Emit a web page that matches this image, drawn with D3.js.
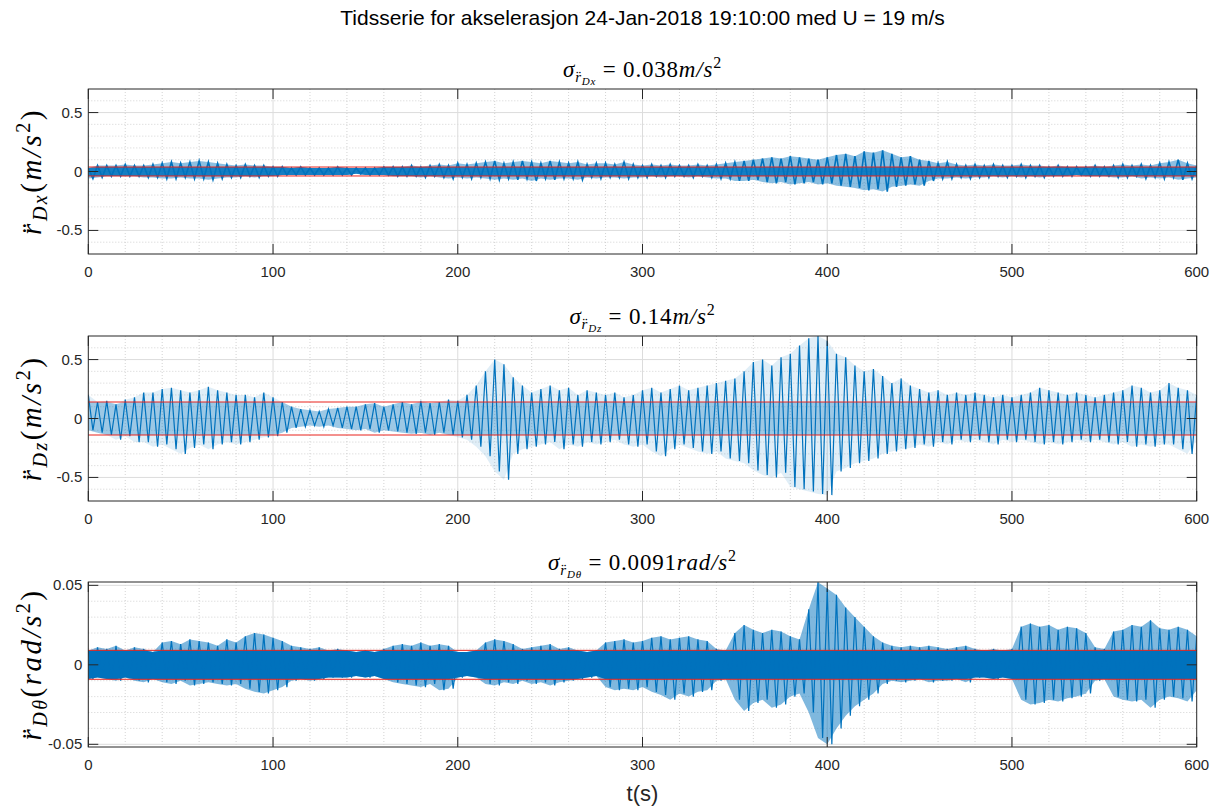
<!DOCTYPE html>
<html>
<head>
<meta charset="utf-8">
<script src="https://cdn.jsdelivr.net/npm/d3@7"></script>
<style>
  body { margin: 0; background: #fff; }
  text { font-family: "Liberation Sans", Arial, sans-serif; fill: #262626; }
  .tex { font-family: "Liberation Serif", "Times New Roman", serif; fill: #000; }
</style>
</head>
<body>
<svg id="fig" width="1218" height="809"></svg>
<script>
// ------------------ 1. Data ------------------
// every value is the max (Hi) or min (Lo) of the signal inside a 5 s window starting at t
const binSeconds = 5;
const binStarts = d3.range(0, 601, binSeconds);

// r_Dx (m/s^2)
const dxHi = [.03,.05,.05,.05,.06,.05,.05,.06,.07,.08, .07,.08,.09,.08,.07,.06,.05,.06,.05,.05,
  .04,.04,.03,.04,.03,.03,.03,.04,.03,.03, .03,.03,.04,.04,.04,.05,.04,.05,.06,.05,
  .07,.06,.07,.08,.09,.07,.08,.09,.08,.07, .09,.08,.07,.08,.06,.07,.07,.06,.08,.06,
  .05,.06,.05,.06,.05,.05,.06,.05,.06,.07, .08,.09,.10,.11,.12,.11,.13,.12,.11,.10,
  .12,.14,.15,.13,.17,.16,.18,.15,.12,.13, .10,.09,.07,.08,.06,.05,.06,.05,.06,.05,
  .05,.06,.05,.05,.04,.05,.04,.04,.04,.05, .04,.05,.06,.05,.06,.05,.07,.08,.10,.07, .05];
const dxLo = [-.06,-.05,-.04,-.04,-.04,-.04,-.05,-.05,-.06,-.06, -.05,-.06,-.06,-.07,-.06,-.05,-.05,-.04,-.05,-.04,
  -.04,-.03,-.03,-.03,-.03,-.03,-.03,-.03,-.03,-.02, -.03,-.03,-.03,-.04,-.04,-.04,-.05,-.04,-.05,-.06,
  -.05,-.06,-.05,-.06,-.07,-.06,-.07,-.06,-.08,-.06, -.07,-.06,-.06,-.07,-.05,-.06,-.05,-.05,-.06,-.05,
  -.05,-.04,-.05,-.04,-.04,-.05,-.04,-.05,-.06,-.06, -.08,-.08,-.07,-.09,-.10,-.09,-.11,-.10,-.09,-.11,
  -.10,-.12,-.13,-.14,-.16,-.15,-.17,-.13,-.12,-.11, -.12,-.08,-.06,-.06,-.05,-.06,-.05,-.05,-.04,-.05,
  -.04,-.05,-.04,-.05,-.04,-.04,-.04,-.03,-.04,-.04, -.04,-.05,-.05,-.04,-.06,-.05,-.06,-.05,-.07,-.06, -.05];

// r_Dz (m/s^2)
const dzHi = [.20,.14,.15,.12,.16,.18,.22,.22,.25,.26, .24,.22,.24,.27,.24,.22,.20,.20,.18,.22,
  .18,.14,.10,.08,.07,.06,.08,.09,.10,.10, .12,.13,.10,.12,.14,.12,.15,.13,.14,.16,
  .15,.20,.28,.40,.50,.46,.35,.28,.22,.25, .28,.24,.26,.20,.24,.22,.20,.22,.18,.20,
  .24,.26,.22,.25,.28,.24,.26,.28,.30,.32, .34,.40,.48,.50,.45,.52,.55,.62,.68,.70,
  .66,.55,.52,.45,.40,.42,.36,.30,.34,.28, .25,.22,.24,.20,.22,.20,.22,.20,.18,.20,
  .18,.20,.22,.26,.24,.22,.20,.22,.20,.18, .20,.22,.24,.28,.26,.22,.24,.30,.26,.24, .20];
const dzLo = [-.10,-.12,-.14,-.18,-.15,-.20,-.20,-.24,-.22,-.26, -.30,-.25,-.22,-.26,-.22,-.20,-.22,-.20,-.18,-.16,
  -.15,-.12,-.08,-.07,-.06,-.07,-.06,-.08,-.09,-.10, -.09,-.12,-.10,-.11,-.12,-.13,-.12,-.14,-.12,-.14,
  -.16,-.18,-.24,-.32,-.45,-.52,-.30,-.26,-.24,-.22, -.20,-.26,-.22,-.24,-.20,-.22,-.20,-.18,-.22,-.24,
  -.22,-.28,-.32,-.26,-.22,-.25,-.28,-.30,-.28,-.34, -.36,-.38,-.44,-.48,-.50,-.46,-.58,-.60,-.62,-.64,
  -.65,-.45,-.42,-.38,-.36,-.34,-.30,-.28,-.26,-.25, -.22,-.24,-.20,-.22,-.18,-.20,-.18,-.20,-.22,-.18,
  -.20,-.18,-.20,-.22,-.20,-.22,-.20,-.18,-.20,-.18, -.20,-.22,-.20,-.24,-.22,-.24,-.22,-.22,-.26,-.30, -.18];

// r_Dtheta (rad/s^2)
const dthHi = [.009,.011,.010,.012,.009,.011,.010,.008,.014,.015, .013,.016,.015,.014,.012,.016,.014,.018,.020,.019,
  .017,.015,.012,.011,.010,.011,.009,.010,.009,.008, .009,.008,.010,.012,.013,.012,.014,.012,.013,.012,
  .008,.008,.009,.014,.016,.015,.013,.010,.011,.012, .013,.010,.011,.009,.008,.009,.014,.015,.016,.014,
  .015,.017,.018,.016,.017,.018,.016,.015,.010,.009, .020,.025,.022,.020,.022,.021,.018,.016,.035,.052,
  .048,.044,.036,.030,.024,.018,.014,.012,.011,.012, .011,.012,.011,.010,.011,.012,.010,.009,.010,.009,
  .010,.024,.026,.024,.025,.022,.024,.023,.020,.011, .010,.021,.022,.025,.024,.028,.023,.022,.024,.022, .018];
const dthLo = [-.009,-.008,-.009,-.010,-.008,-.010,-.011,-.009,-.011,-.012, -.010,-.013,-.012,-.011,-.012,-.013,-.012,-.015,-.017,-.018,
  -.016,-.014,-.010,-.009,-.010,-.009,-.008,-.008,-.008,-.007, -.008,-.007,-.009,-.011,-.012,-.013,-.014,-.012,-.016,-.015,
  -.008,-.007,-.008,-.012,-.013,-.011,-.012,-.010,-.012,-.011, -.013,-.011,-.010,-.009,-.008,-.007,-.014,-.016,-.015,-.016,
  -.014,-.017,-.019,-.022,-.018,-.020,-.017,-.016,-.010,-.009, -.022,-.029,-.024,-.022,-.027,-.025,-.020,-.018,-.030,-.046,
  -.050,-.040,-.032,-.026,-.022,-.018,-.012,-.010,-.011,-.010, -.009,-.011,-.010,-.010,-.009,-.011,-.008,-.008,-.009,-.008,
  -.009,-.022,-.025,-.024,-.022,-.023,-.021,-.020,-.018,-.010, -.009,-.020,-.022,-.023,-.022,-.027,-.022,-.020,-.021,-.023, -.016];

const sigmas = [0.038, 0.14, 0.0091];          // red lines at +/- sigma
const sigmaLabels = ['0.038', '0.14', '0.0091'];
const xTicks = [0, 100, 200, 300, 400, 500, 600];
const yTicksMS = [-0.5, 0, 0.5];
const yTicksRad = [-0.05, 0, 0.05];
const mainTitle = 'Tidsserie for akselerasjon 24-Jan-2018 19:10:00 med U = 19 m/s';

// ------------------ 2. Layout ------------------
const svg = d3.select('#fig');
svg.append('rect').attr('width', 1218).attr('height', 809).attr('fill', '#fff');

const left = 88.3, right = 1196.7, plotH = 165;
const x = d3.scaleLinear().domain([0, 600]).range([left, right]);

// outerOp = light envelope, coreOp = dense part inside +/- sigma
const panels = [
  { top: 89,  hi: dxHi,  lo: dxLo,  dom: [-0.7, 0.7], ticks: yTicksMS, minor: 0.1,
    sub: 'Dx', unit: 'm/s', outerOp: 0.45, coreOp: 0.85, lw: 1.6 },
  { top: 336, hi: dzHi,  lo: dzLo,  dom: [-0.7, 0.7], ticks: yTicksMS, minor: 0.1,
    sub: 'Dz', unit: 'm/s', outerOp: 0.12, coreOp: 0.3, lw: 1.2 },
  { top: 582, hi: dthHi, lo: dthLo, dom: [-0.0517, 0.0521], ticks: yTicksRad, minor: 0.01,
    sub: 'D\u03B8', unit: 'rad/s', outerOp: 0.5, coreOp: 1, lw: 1.2 }
];

const blue = '#0072BD';
const red = '#e8231c';
const axisColor = '#262626';

// helper: write a run of tspans (for the latex-ish labels)
function richText(sel, parts) {
  parts.forEach(p => {
    const ts = sel.append('tspan').text(p.t).attr('font-size', p.size);
    if (p.it) ts.attr('font-style', 'italic');
    if (p.dy) ts.attr('dy', p.dy);
  });
}

svg.append('text')
  .attr('x', (left + right) / 2).attr('y', 25)
  .attr('text-anchor', 'middle').attr('font-size', 21)
  .style('fill', '#000')
  .text(mainTitle);

panels.forEach((p, k) => {
  const top = p.top, bottom = top + plotH;
  const y = d3.scaleLinear().domain(p.dom).range([bottom, top]);
  const g = svg.append('g');

  const clipId = 'clip' + k;
  svg.append('clipPath').attr('id', clipId)
    .append('rect').attr('x', left).attr('y', top).attr('width', right - left).attr('height', plotH);

  // minor grid (dotted)
  const xMinor = d3.range(0, 601, 20).filter(v => v % 100 !== 0);
  g.selectAll('.xmin').data(xMinor).join('line')
    .attr('x1', d => x(d)).attr('x2', d => x(d)).attr('y1', top).attr('y2', bottom)
    .attr('stroke', '#c8c8c8').attr('stroke-dasharray', '1,2').attr('stroke-width', 0.8);
  const nMin = Math.ceil(p.dom[1] / p.minor - 1e-9);
  const yMinor = d3.range(-nMin, nMin + 1).map(i => i * p.minor)
    .filter(v => v > p.dom[0] && v < p.dom[1])
    .filter(v => !p.ticks.some(t => Math.abs(t - v) < p.minor / 10));
  g.selectAll('.ymin').data(yMinor).join('line')
    .attr('x1', left).attr('x2', right).attr('y1', d => y(d)).attr('y2', d => y(d))
    .attr('stroke', '#c8c8c8').attr('stroke-dasharray', '1,2').attr('stroke-width', 0.8);

  // major grid
  g.selectAll('.xmaj').data(xTicks.slice(1, -1)).join('line')
    .attr('x1', d => x(d)).attr('x2', d => x(d)).attr('y1', top).attr('y2', bottom)
    .attr('stroke', '#dcdcdc').attr('stroke-width', 1);
  g.selectAll('.ymaj').data(p.ticks).join('line')
    .attr('x1', left).attr('x2', right).attr('y1', d => y(d)).attr('y2', d => y(d))
    .attr('stroke', '#dcdcdc').attr('stroke-width', 1);

  // signal: light envelope, dense core (clamped at +/- sigma), zigzag through the extremes
  const s = sigmas[k];
  const band = d3.area()
    .x((d, i) => x(binStarts[i]))
    .y0((d, i) => y(p.lo[i]))
    .y1((d, i) => y(p.hi[i]));
  g.append('path').datum(p.hi)
    .attr('clip-path', `url(#${clipId})`)
    .attr('d', band).attr('fill', blue).attr('fill-opacity', p.outerOp);

  const core = d3.area()
    .x((d, i) => x(binStarts[i]))
    .y0((d, i) => y(Math.max(p.lo[i], -s)))
    .y1((d, i) => y(Math.min(p.hi[i], s)));
  g.append('path').datum(p.hi)
    .attr('clip-path', `url(#${clipId})`)
    .attr('d', core).attr('fill', blue).attr('fill-opacity', p.coreOp);

  const pts = [];
  binStarts.forEach((t, i) => {
    pts.push([t, p.hi[i]]);
    if (i < binStarts.length - 1) pts.push([t + binSeconds / 2, p.lo[i]]);
  });
  g.append('path').datum(pts)
    .attr('clip-path', `url(#${clipId})`)
    .attr('d', d3.line().x(d => x(d[0])).y(d => y(d[1])))
    .attr('fill', 'none').attr('stroke', blue).attr('stroke-width', p.lw);

  // +/- sigma
  g.selectAll('.sig').data([s, -s]).join('line')
    .attr('x1', left).attr('x2', right).attr('y1', d => y(d)).attr('y2', d => y(d))
    .attr('stroke', red).attr('stroke-width', 1);

  // box + inward ticks
  g.append('rect').attr('x', left).attr('y', top).attr('width', right - left).attr('height', plotH)
    .attr('fill', 'none').attr('stroke', axisColor).attr('stroke-width', 1);
  const tl = 10;
  xTicks.forEach(v => {
    g.append('line').attr('x1', x(v)).attr('x2', x(v)).attr('y1', bottom).attr('y2', bottom - tl)
      .attr('stroke', axisColor);
    g.append('line').attr('x1', x(v)).attr('x2', x(v)).attr('y1', top).attr('y2', top + tl)
      .attr('stroke', axisColor);
    g.append('text').attr('x', x(v)).attr('y', bottom + 23)
      .attr('text-anchor', 'middle').attr('font-size', 15).text(v);
  });
  p.ticks.forEach(v => {
    g.append('line').attr('x1', left).attr('x2', left + tl).attr('y1', y(v)).attr('y2', y(v))
      .attr('stroke', axisColor);
    g.append('line').attr('x1', right).attr('x2', right - tl).attr('y1', y(v)).attr('y2', y(v))
      .attr('stroke', axisColor);
    g.append('text').attr('x', left - 6).attr('y', y(v) + 5)
      .attr('text-anchor', 'end').attr('font-size', 15).text(String(v));
  });

  // subplot title: sigma_{r_{..}} = value unit^2
  const tt = g.append('text').attr('class', 'tex')
    .attr('x', (left + right) / 2).attr('y', top - 12).attr('text-anchor', 'middle')
    .attr('letter-spacing', 0.8);
  richText(tt, [
    { t: '\u03C3', it: true, size: 23 },
    { t: 'r\u0308', it: true, size: 15, dy: 5 },
    { t: p.sub, it: true, size: 11, dy: 3 },
    { t: ' = ' + sigmaLabels[k], size: 23, dy: -8 },
    { t: p.unit, it: true, size: 23 },
    { t: '2', size: 16, dy: -9 }
  ]);

  // y label
  const cy = top + plotH / 2;
  const yl = g.append('text').attr('class', 'tex')
    .attr('transform', `translate(41,${cy}) rotate(-90)`).attr('text-anchor', 'middle')
    .attr('letter-spacing', 2.5);
  richText(yl, [
    { t: 'r\u0308', it: true, size: 29 },
    { t: p.sub, it: true, size: 20, dy: 6 },
    { t: '(', size: 29, dy: -6 },
    { t: p.unit, it: true, size: 29 },
    { t: '2', size: 20, dy: -11 },
    { t: ')', size: 29, dy: 11 }
  ]);
});

svg.append('text')
  .attr('x', (left + right) / 2).attr('y', 801)
  .attr('text-anchor', 'middle').attr('font-size', 22).text('t(s)');
</script>
</body>
</html>
